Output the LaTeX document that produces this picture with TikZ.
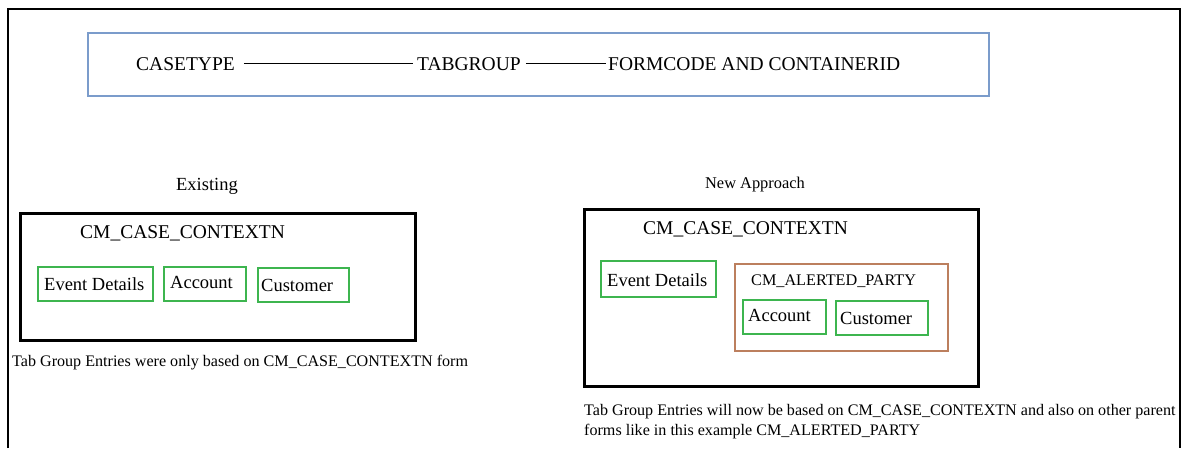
\documentclass[tikz,border=0pt]{standalone}
\usepackage{fontspec}
\setmainfont{Liberation Serif}
\definecolor{frameblue}{HTML}{7B9CCB}
\definecolor{formgreen}{HTML}{3DB54F}
\definecolor{partybrown}{HTML}{BC7F5E}
\tikzset{
  lbl/.style={inner sep=0pt, anchor=base west, font=\fontsize{19.5}{22}\selectfont},
  blackbox/.style={draw=black, line width=3pt},
  greenbox/.style={draw=formgreen, line width=2.6pt},
  brownbox/.style={draw=partybrown, line width=2.6pt},
  tabtxt/.style={inner sep=0pt, anchor=base west, font=\fontsize{18.5}{21}\selectfont},
  note/.style={inner sep=0pt, anchor=base west, font=\fontsize{16.1}{20}\selectfont},
  link/.style={draw=black, line width=0.9pt},
}
\begin{document}
\begin{tikzpicture}[x=1pt,y=-1pt]
\useasboundingbox (0,0) rectangle (1186,448);
\fill[white] (0,0) rectangle (1186,448);
% outer frame (bottom edge beyond view)
\draw[line width=2pt] (8,448) -- (8,9) -- (1180,9) -- (1180,448);
% top blue box
\draw[draw=frameblue, line width=2.4pt] (88,33) rectangle (989,96);
\node[lbl] (ct) at (136,70) {CASETYPE};
\node[lbl] (tg) at (417,70) {TABGROUP};
\node[lbl] (fc) at (608,70) {FORMCODE AND CONTAINERID};
\draw[link] ([xshift=9pt,yshift=7pt]ct.base east) -- ([xshift=-4pt,yshift=7pt]tg.base west);
\draw[link] ([xshift=5pt,yshift=7pt]tg.base east) -- ([xshift=-2pt,yshift=7pt]fc.base west);
% Existing
\node[inner sep=0pt, anchor=base, font=\fontsize{18.5}{21}\selectfont] (ex) at (207,190) {Existing};
\draw[blackbox] (20,213) rectangle (415,340);
\node[lbl] (cc1) at (80,238) {CM\_CASE\_CONTEXTN};
\draw[greenbox] (38,267) rectangle (153,301);
\node[tabtxt] (ed1) at (44,290) {Event Details};
\draw[greenbox] (164,267) rectangle (246,301);
\node[tabtxt] (ac1) at (170,288) {Account};
\draw[greenbox] (258,268) rectangle (349,302);
\node[tabtxt] (cu1) at (261,291) {Customer};
\node[note] (n1) at (12,366) {Tab Group Entries were only based on CM\_CASE\_CONTEXTN form};
% New approach
\node[inner sep=0pt, anchor=base, font=\fontsize{16.4}{19}\selectfont] (na) at (755,188) {New Approach};
\draw[blackbox] (584,209) rectangle (978,386);
\node[lbl] (cc2) at (643,234) {CM\_CASE\_CONTEXTN};
\draw[greenbox] (601,261) rectangle (716,297);
\node[tabtxt] (ed2) at (607,286) {Event Details};
\draw[brownbox] (735,264) rectangle (948,351);
\node[inner sep=0pt, anchor=base west, font=\fontsize{16.2}{19}\selectfont] (ap) at (751,285) {CM\_ALERTED\_PARTY};
\draw[greenbox] (743,300) rectangle (826,334);
\node[tabtxt] (ac2) at (748,321) {Account};
\draw[greenbox] (836,301) rectangle (928,335);
\node[tabtxt] (cu2) at (840,324) {Customer};
\node[note] (n2a) at (584,415) {Tab Group Entries will now be based on CM\_CASE\_CONTEXTN and also on other parent};
\node[note] (n2b) at (584,435) {forms like in this example CM\_ALERTED\_PARTY};
\end{tikzpicture}
\end{document}
